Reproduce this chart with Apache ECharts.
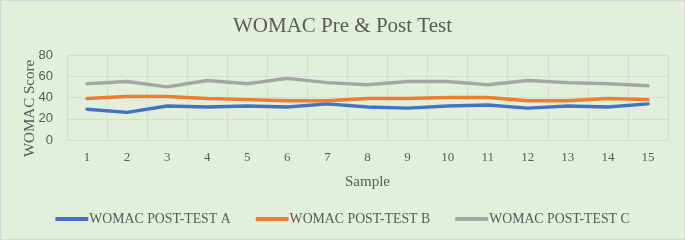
<!DOCTYPE html>
<html>
<head>
<meta charset="utf-8">
<script src="https://cdn.jsdelivr.net/npm/echarts@6/dist/echarts.min.js"></script>
<style>
  html, body { margin: 0; padding: 0; background: #fff; }
  #chart { width: 685px; height: 240px; box-sizing: border-box; border: 1px solid #d9d9d9; }
</style>
</head>
<body>
<div id="chart"></div>
<script>
const samples = ['1', '2', '3', '4', '5', '6', '7', '8', '9', '10', '11', '12', '13', '14', '15'];
const postTestA = [29, 26, 32, 31, 32, 31, 34, 31, 30, 32, 33, 30, 32, 31, 34];
const postTestB = [39, 41, 41, 39, 38, 37, 37, 39, 39, 40, 40, 37, 37, 39, 38];
const postTestC = [53, 55, 50, 56, 53, 58, 54, 52, 55, 55, 52, 56, 54, 53, 51];
const seriesNames = ['WOMAC POST-TEST A', 'WOMAC POST-TEST B', 'WOMAC POST-TEST C'];
const colors = ['#4472C4', '#ED7D31', '#A5A5A5'];

const serif = '"Liberation Serif", "DejaVu Serif", serif';
const sans = '"Liberation Sans", Arial, sans-serif';

const chart = echarts.init(document.getElementById('chart'));

const mkLine = (name, data, color) => ({
  name,
  type: 'line',
  data,
  symbol: 'none',
  smooth: false,
  lineStyle: { width: 3.5, color, cap: 'round', join: 'round' },
  itemStyle: { color },
});

chart.setOption({
  backgroundColor: '#E2EFDA',
  animation: false,
  title: {
    text: 'WOMAC Pre & Post Test',
    left: 'center',
    top: 10,
    textStyle: { fontFamily: serif, fontSize: 21, fontWeight: 'normal', color: '#595959' },
  },
  grid: { left: 66, right: 16, top: 54, bottom: 99 },
  legend: {
    bottom: 8,
    left: 'center',
    itemWidth: 33,
    itemHeight: 4,
    itemGap: 25,
    icon: 'roundRect',
    textStyle: { fontFamily: serif, fontSize: 13.8, color: '#595959', padding: [0, 0, 0, -4] },
    data: seriesNames,
  },
  xAxis: {
    type: 'category',
    data: samples,
    boundaryGap: true,
    name: 'Sample',
    nameLocation: 'middle',
    nameGap: 35,
    nameTextStyle: { fontFamily: serif, fontSize: 15, color: '#595959' },
    axisLine: { show: true, lineStyle: { color: '#d9d9d9', width: 1 } },
    axisTick: { show: false },
    axisLabel: { fontFamily: serif, fontSize: 13, color: '#595959', margin: 11 },
    splitLine: { show: true, lineStyle: { color: '#d9d9d9', width: 1 } },
  },
  yAxis: {
    type: 'value',
    min: 0,
    max: 80,
    interval: 20,
    name: 'WOMAC Score',
    nameLocation: 'middle',
    nameGap: 29,
    nameMoveOverlap: false,
    nameTextStyle: { fontFamily: serif, fontSize: 15, color: '#595959', padding: [0, 22, 0, 0] },
    axisLine: { show: false },
    axisTick: { show: false },
    axisLabel: { fontFamily: sans, fontSize: 13, color: '#595959', margin: 14 },
    splitLine: { show: true, lineStyle: { color: '#d9d9d9', width: 1 } },
  },
  series: [
    mkLine(seriesNames[0], postTestA, colors[0]),
    mkLine(seriesNames[1], postTestB, colors[1]),
    mkLine(seriesNames[2], postTestC, colors[2]),
  ],
});
</script>
</body>
</html>
